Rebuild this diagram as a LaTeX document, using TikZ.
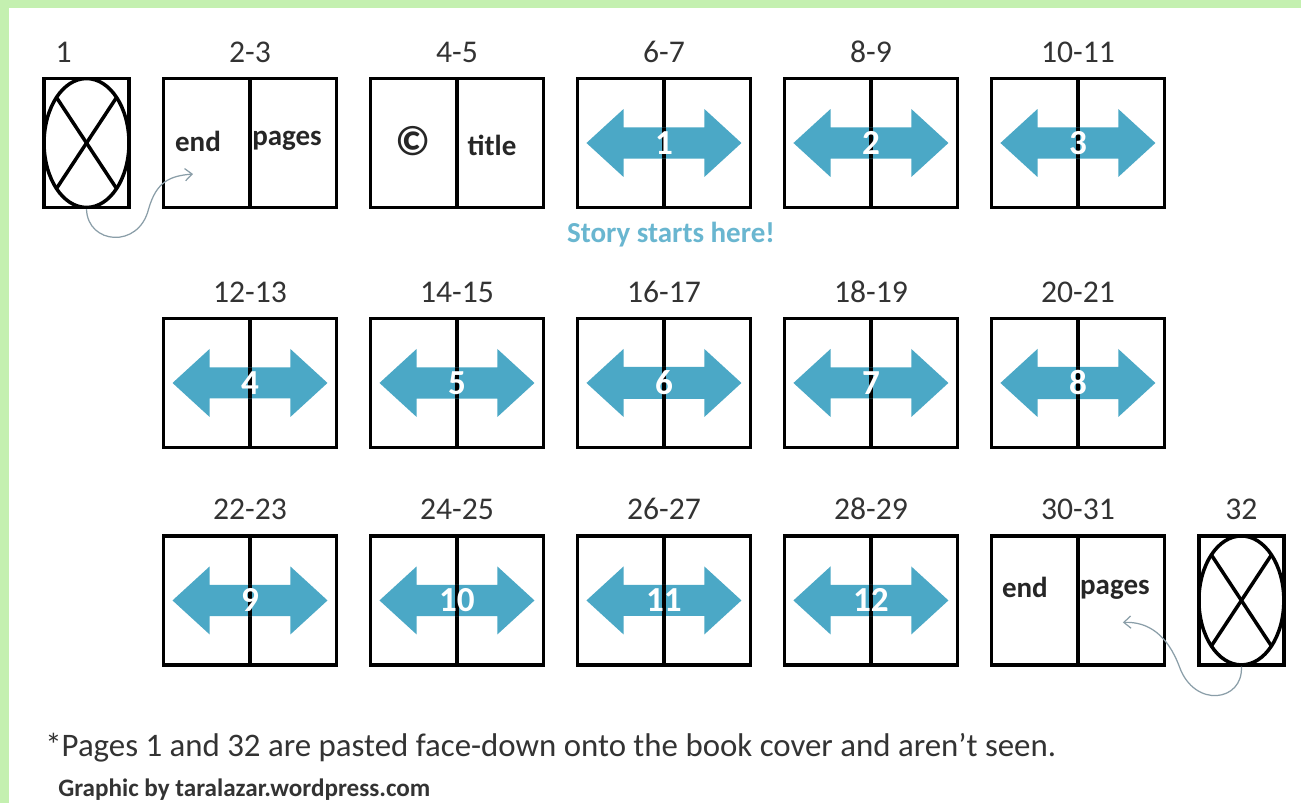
\documentclass[tikz,border=0pt]{standalone}
\usepackage{fontspec}
\setmainfont{Carlito}
\usetikzlibrary{positioning, shapes.geometric, shapes.arrows, arrows.meta, calc}
\definecolor{storyblue}{RGB}{75,168,198}
\definecolor{storytext}{RGB}{105,182,208}
\definecolor{linkgray}{RGB}{138,158,168}
\definecolor{framegreen}{RGB}{196,240,176}

\begin{document}
\begin{tikzpicture}[
    x=0.02cm, y=0.02cm,
    node distance=0.61cm,
    pagenum/.style={font=\fontsize{18}{21}\selectfont, text=black!80, label distance=0.16cm},
    spread/.style={draw=black, line width=2pt, minimum width=3.46cm, minimum height=2.58cm, inner sep=0pt, label={[pagenum]above:#1},
        path picture={\draw[line width=2pt] (path picture bounding box.north) -- (path picture bounding box.south);}},
    cover/.style={draw=black, line width=2pt, minimum width=1.70cm, minimum height=2.58cm, inner sep=0pt,
        path picture={\draw[line width=2pt] (path picture bounding box.center) ellipse [x radius=0.85cm, y radius=1.29cm];
            \draw[line width=2pt] (path picture bounding box.center) +(-0.60cm,0.91cm) -- +(0.60cm,-0.91cm);
            \draw[line width=2pt] (path picture bounding box.center) +(0.60cm,0.91cm) -- +(-0.60cm,-0.91cm);}},
    storyarrow/.style={double arrow, fill=storyblue, draw=none, minimum height=3.1cm, minimum width=1.36cm, double arrow head extend=0.28cm, double arrow tip angle=85, inner sep=0pt, text=white, font=\fontsize{20}{22}\selectfont\bfseries,
        path picture={\draw[line width=2pt] (path picture bounding box.north) -- (path picture bounding box.south);}},
    pageword/.style={font=\fontsize{16.5}{18}\selectfont\bfseries, text=black!85},
    link/.style={draw=linkgray, line width=0.7pt, -{Straight Barb[length=4pt, width=7pt]}}
]

% Frame
\useasboundingbox (0,0) rectangle (1301,-803);
\fill[white] (0,0) rectangle (1301,-803);
\fill[framegreen] (0,0) rectangle (1301,-8);
\fill[framegreen] (0,0) rectangle (9,-803);

% Row 1
\node[spread=2-3] (s23) at (250,-143) {};
\node[cover, left=0.62cm of s23, label={[pagenum, xshift=-0.46cm]above:1}] (c1) {};
\node[spread=4-5, right=of s23] (s45) {};
\node[spread=6-7, right=of s45] (s67) {};
\node[spread=8-9, right=of s67] (s89) {};
\node[spread=10-11, right=of s89] (s1011) {};

% Row 2
\node[spread=12-13, below=2.15cm of s23] (s1213) {};
\node[spread=14-15, right=of s1213] (s1415) {};
\node[spread=16-17, right=of s1415] (s1617) {};
\node[spread=18-19, right=of s1617] (s1819) {};
\node[spread=20-21, right=of s1819] (s2021) {};

% Row 3
\node[spread=22-23, below=1.70cm of s1213] (s2223) {};
\node[spread=24-25, right=of s2223] (s2425) {};
\node[spread=26-27, right=of s2425] (s2627) {};
\node[spread=28-29, right=of s2627] (s2829) {};
\node[spread=30-31, right=of s2829] (s3031) {};
\node[cover, right=0.62cm of s3031, label={[pagenum]above:32}] (c32) {};

% Front and back matter
\node[pageword] (end23) at ($(s23)+(-52,2)$) {end};
\node[pageword] (pages23) at ($(s23)+(37,2)$) {pages};
\node[pageword, font=\fontsize{24}{26}\selectfont\bfseries] (copy45) at ($(s45)+(-44,2)$) {\textcopyright};
\node[pageword] (title45) at ($(s45)+(35,-2)$) {title};
\node[pageword] (end3031) at ($(s3031)+(-53,13)$) {end};
\node[pageword] (pages3031) at ($(s3031)+(37,11)$) {pages};

% Story spreads
\node[storyarrow] (a1) at (s67) {1};
\node[storyarrow] (a2) at (s89) {2};
\node[storyarrow] (a3) at (s1011) {3};
\node[storyarrow] (a4) at (s1213) {4};
\node[storyarrow] (a5) at (s1415) {5};
\node[storyarrow] (a6) at (s1617) {6};
\node[storyarrow] (a7) at (s1819) {7};
\node[storyarrow] (a8) at (s2021) {8};
\node[storyarrow] (a9) at (s2223) {9};
\node[storyarrow] (a10) at (s2425) {10};
\node[storyarrow] (a11) at (s2627) {11};
\node[storyarrow] (a12) at (s2829) {12};
\node[font=\fontsize{16.5}{18}\selectfont\bfseries, text=storytext] (start) at ($(s67.south)+(7,-25)$) {Story starts here!};

% Pasted pages
\coordinate (e23) at ($(s23)+(-57,-31)$);
\coordinate (e3031) at ($(s3031)+(45,-22)$);
\draw[link] (c1.south) .. controls +(1,-35) and +(-10,-40) .. ($(c1.south)+(62,0)$) .. controls +(8,28) and +(-23,-2) .. (e23);
\draw[link] (c32.south) .. controls +(2,-35) and +(15,-42) .. ($(c32.south)+(-62,0)$) .. controls +(-12,32) and +(25,1) .. (e3031);

% Notes
\node[font=\fontsize{18.7}{22}\selectfont, text=black!80, anchor=west, inner sep=0pt] (note) at (45,-748) {*Pages 1 and 32 are pasted face-down onto the book cover and aren’t seen.};
\node[font=\fontsize{14.3}{16}\selectfont\bfseries, text=black!80, anchor=west, inner sep=0pt] (credit) at (58,-790) {Graphic by taralazar.wordpress.com};

\end{tikzpicture}
\end{document}
